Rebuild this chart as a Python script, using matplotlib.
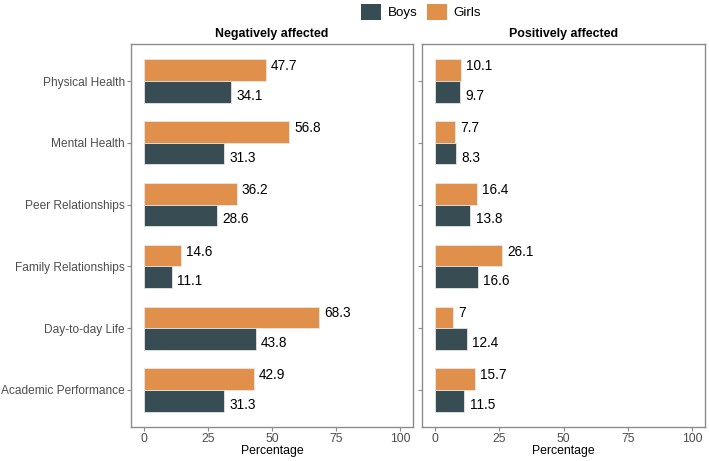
import numpy as np
import matplotlib.pyplot as plt
from matplotlib.patches import Patch

plt.rcParams['font.family'] = ['Liberation Sans', 'DejaVu Sans']

categories = ["Physical Health", "Mental Health", "Peer Relationships",
              "Family Relationships", "Day-to-day Life", "Academic Performance"]
neg_boys = [34.1, 31.3, 28.6, 11.1, 43.8, 31.3]
neg_girls = [47.7, 56.8, 36.2, 14.6, 68.3, 42.9]
pos_boys = [9.7, 8.3, 13.8, 16.6, 12.4, 11.5]
pos_girls = [10.1, 7.7, 16.4, 26.1, 7.0, 15.7]
panels = ["Negatively affected", "Positively affected"]
xticks = [0, 25, 50, 75, 100]

c_boys = "#384D53"
c_girls = "#E0904A"
frame = "#8C8C8C"

W, H = 709, 461
fig = plt.figure(figsize=(W / 100, H / 100), dpi=100)

def px_axes(x0, y0, x1, y1):
    return fig.add_axes([x0 / W, (H - y1) / H, (x1 - x0) / W, (y1 - y0) / H])

ax1 = px_axes(131, 44, 413, 427)
ax2 = px_axes(422, 44, 705, 427)

y = np.arange(1, len(categories) + 1)
bh = 0.35

for ax, title, boys, girls in [(ax1, panels[0], neg_boys, neg_girls),
                               (ax2, panels[1], pos_boys, pos_girls)]:
    ax.barh(y - bh / 2, girls, height=bh, color=c_girls, edgecolor="#E6E6E6", linewidth=0.6)
    ax.barh(y + bh / 2, boys, height=bh, color=c_boys, edgecolor="#E6E6E6", linewidth=0.6)
    for yi, v in zip(y, girls):
        ax.text(v + 2, yi - bh / 2 - 0.065, f"{v:g}", va="center", ha="left",
                fontsize=9.8, color="black")
    for yi, v in zip(y, boys):
        ax.text(v + 2, yi + bh / 2 + 0.065, f"{v:g}", va="center", ha="left",
                fontsize=9.8, color="black")
    ax.set_xlim(-5, 105)
    ax.set_ylim(6.6, 0.4)
    ax.set_xticks(xticks)
    ax.set_yticks(y)
    ax.set_title(title, fontsize=8.9, fontweight="bold", pad=5)
    ax.set_xlabel("Percentage", fontsize=8.8, labelpad=0)
    for s in ax.spines.values():
        s.set_color(frame)
        s.set_linewidth(1.0)
    ax.tick_params(colors=frame, length=3, width=0.8, labelsize=8.8,
                   labelcolor="#4D4D4D", pad=1.5)
    ax.tick_params(axis="y", labelsize=8.6)

ax1.set_yticklabels(categories)
ax2.set_yticklabels([])

handles = [Patch(facecolor=c_boys, edgecolor="none", label="Boys"),
           Patch(facecolor=c_girls, edgecolor="none", label="Girls")]
fig.legend(handles=handles, loc="center", bbox_to_anchor=(421 / W, 1 - 12 / H),
           ncol=2, frameon=False, fontsize=9.6, handlelength=1.5, handleheight=1.5,
           handletextpad=0.5, columnspacing=0.7)

fig.savefig("out.png", dpi=100)
